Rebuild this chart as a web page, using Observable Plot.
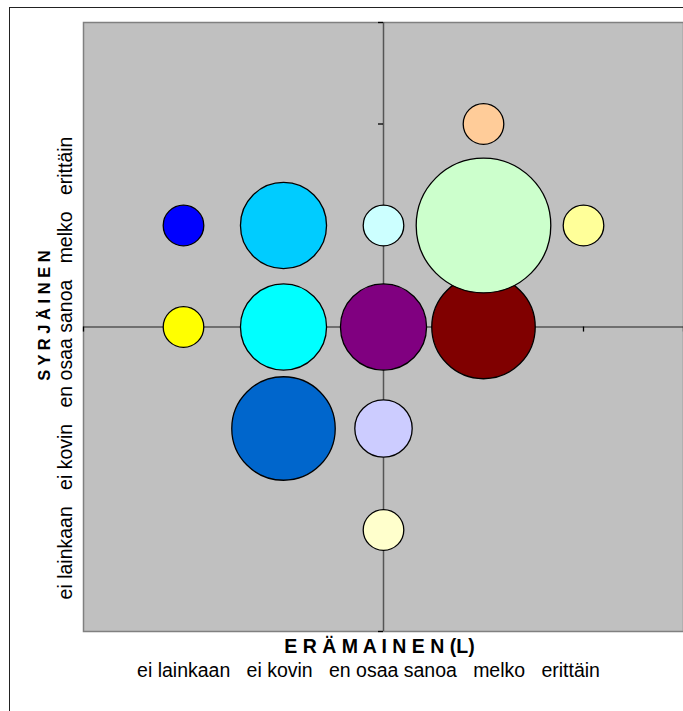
<!DOCTYPE html>
<html>
<head>
<meta charset="utf-8">
<script src="https://cdn.jsdelivr.net/npm/d3@7"></script>
<script src="https://cdn.jsdelivr.net/npm/@observablehq/plot@0.6"></script>
<style>
  html, body { margin: 0; padding: 0; background: #fff; }
  #wrap { position: relative; width: 683px; height: 711px; overflow: hidden; }
  #border { position: absolute; left: 9px; top: 7px; width: 720px; height: 740px; border: 1px solid #222; box-sizing: border-box; pointer-events: none; }
</style>
</head>
<body>
<div id="wrap"><div id="border"></div></div>
<script>
// Answer scale (tick labels), low to high
const categories = ["ei lainkaan", "ei kovin", "en osaa sanoa", "melko", "erittäin"];

// Bubble series
const series     = ["s1","s2","s3","s4","s5","s6","s7","s8","s9","s10","s11","s12","s13"];
const eramainen  = ["ei lainkaan","ei kovin","en osaa sanoa","ei lainkaan","ei kovin","en osaa sanoa","melko","melko","erittäin","melko","ei kovin","en osaa sanoa","en osaa sanoa"];
const syrjainen  = ["melko","melko","melko","en osaa sanoa","en osaa sanoa","en osaa sanoa","en osaa sanoa","melko","melko","erittäin","ei kovin","ei kovin","ei lainkaan"];
const counts     = [2, 9, 2, 2, 9, 9, 13, 22, 2, 2, 13, 4, 2];
const seriesColors = ["#0000FF","#00CCFF","#CCFFFF","#FFFF00","#00FFFF","#800080","#800000","#CCFFCC","#FFFF99","#FFCC99","#0066CC","#CCCCFF","#FFFFCC"];

const xTitle = "E R Ä M A I N E N (L)";
const yTitle = "S Y R J Ä I N E N";
const tickValues = [-3, -2, -1, 1, 2, 3];

const mid = (categories.length - 1) / 2;
const data = series.map((s, i) => ({
  series: s,
  x: categories.indexOf(eramainen[i]) - mid,
  y: categories.indexOf(syrjainen[i]) - mid,
  n: counts[i]
}));
const sep = "\u00a0\u00a0\u00a0";
const scaleText = categories.join(sep);
const font = "'Liberation Sans', Arial, sans-serif";

const chart = Plot.plot({
  width: 683,
  height: 711,
  marginLeft: 83,
  marginRight: 0,
  marginTop: 22,
  marginBottom: 80,
  style: { fontFamily: font, background: "transparent", color: "#000" },
  x: { domain: [-3, 3], axis: null },
  y: { domain: [-3, 3], axis: null },
  r: { type: "sqrt", domain: [0, 22], range: [0, 67.3] },
  color: { domain: series, range: seriesColors },
  marks: [
    Plot.frame({ fill: "#C0C0C0", stroke: "#808080", strokeWidth: 1.5 }),
    Plot.ruleX([0], { stroke: "#555", strokeWidth: 1.5 }),
    Plot.ruleY([0], { stroke: "#555", strokeWidth: 1.5 }),
    Plot.ruleY(tickValues, { y: d => d, x1: -0.05, x2: 0, stroke: "#000", strokeWidth: 1.3 }),
    Plot.ruleX(tickValues, { x: d => d, y1: 0, y2: -0.05, stroke: "#000", strokeWidth: 1.3 }),
    Plot.dot(data, { x: "x", y: "y", r: "n", fill: "series", stroke: "#000", strokeWidth: 1.3, fillOpacity: 1, sort: null }),
    Plot.text([xTitle], { frameAnchor: "bottom", text: d => d, textAnchor: "middle", dx: -4, dy: 15, lineAnchor: "middle", fontSize: 19.5, fontWeight: "bold", fill: "#000" }),
    Plot.text([scaleText], { frameAnchor: "bottom", text: d => d, textAnchor: "middle", dx: -15, dy: 39, lineAnchor: "middle", fontSize: 19.5, fill: "#000" }),
    Plot.text([yTitle], { frameAnchor: "left", text: d => d, textAnchor: "middle", rotate: -90, dx: -39, dy: -11.5, lineAnchor: "middle", fontSize: 16.5, fontWeight: "bold", fill: "#000" }),
    Plot.text([scaleText], { frameAnchor: "left", text: d => d, textAnchor: "middle", rotate: -90, dx: -18, dy: 41, lineAnchor: "middle", fontSize: 19.5, fill: "#000" })
  ]
});
document.getElementById("wrap").appendChild(chart);
</script>
</body>
</html>
